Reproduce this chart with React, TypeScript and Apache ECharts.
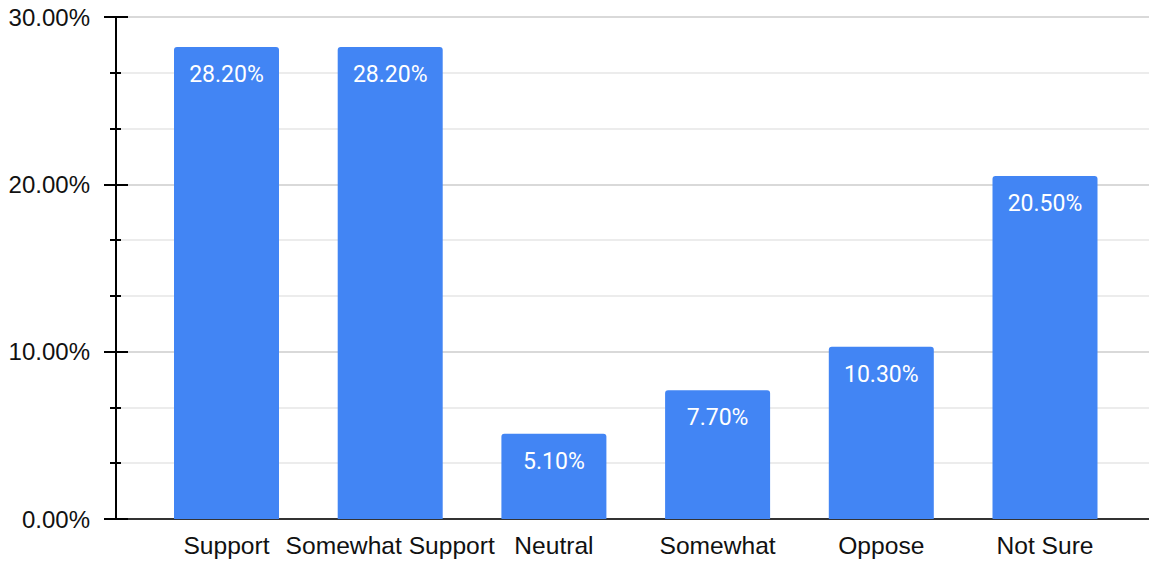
import React, { useEffect, useRef } from "react";
import * as echarts from "echarts";

const categories = ["Support", "Somewhat Support", "Neutral", "Somewhat", "Oppose", "Not Sure"];
const values = [28.2, 28.2, 5.1, 7.7, 10.3, 20.5];
const yTicks = { min: 0, max: 30, interval: 10 };

export default function App() {
  const ref = useRef<HTMLDivElement>(null);
  useEffect(() => {
    if (!ref.current) return;
    const chart = echarts.init(ref.current, null, { renderer: "svg" });
    const fmt = (v: number) => `${v.toFixed(2)}%`;
    const baseY = {
      type: "value" as const,
      min: yTicks.min,
      max: yTicks.max,
      interval: yTicks.interval,
    };
    const hiddenX = {
      type: "value" as const,
      min: 0,
      max: 1,
      axisTick: { show: false },
      axisLabel: { show: false },
      splitLine: { show: false },
    };
    chart.setOption({
      animation: false,
      grid: [
        { left: 116, right: 0, top: 17, bottom: 42 },
        { left: 144.65, right: 22.15, top: 17, bottom: 42 },
        { left: 116, right: 0, top: 17, bottom: 42 },
      ],
      xAxis: [
        {
          ...hiddenX,
          gridIndex: 0,
          axisLine: { show: true, lineStyle: { color: "#333", width: 2 } },
        },
        {
          gridIndex: 1,
          type: "category",
          data: categories,
          axisLine: { show: false },
          axisTick: { show: false },
          axisLabel: {
            color: "#111",
            fontFamily: "Liberation Sans, Arial, sans-serif",
            fontSize: 24.6,
            margin: 14,
            interval: 0,
          },
        },
        {
          ...hiddenX,
          gridIndex: 2,
          axisLine: { show: false },
        },
      ],
      yAxis: [
        {
          ...baseY,
          gridIndex: 0,
          axisLine: { show: true, lineStyle: { color: "#000", width: 2 } },
          axisTick: { show: true, inside: false, length: 12, lineStyle: { color: "#000", width: 2 } },
          minorTick: { show: true, splitNumber: 3, length: 6, lineStyle: { color: "#000", width: 2 } },
          axisLabel: {
            formatter: fmt,
            color: "#111",
            fontFamily: "Liberation Sans, Arial, sans-serif",
            fontSize: 24,
            margin: 26,
          },
          splitLine: { show: true, lineStyle: { color: "#cccccc", width: 1.5 } },
          minorSplitLine: { show: true, lineStyle: { color: "#e6e6e6", width: 1.5 } },
        },
        {
          ...baseY,
          gridIndex: 1,
          show: false,
        },
        {
          ...baseY,
          gridIndex: 2,
          axisLine: { show: true, lineStyle: { color: "#000", width: 2 } },
          axisTick: { show: true, inside: true, length: 12, lineStyle: { color: "#000", width: 2 } },
          minorTick: { show: true, splitNumber: 3, length: 5, lineStyle: { color: "#000", width: 2 } },
          axisLabel: { show: false },
          splitLine: { show: false },
        },
      ],
      series: [
        {
          type: "bar",
          xAxisIndex: 1,
          yAxisIndex: 1,
          data: values,
          barWidth: 105,
          itemStyle: { color: "#4285F4", borderRadius: [3, 3, 0, 0] },
          label: {
            show: true,
            position: "insideTop",
            distance: 16,
            color: "#ffffff",
            fontFamily: "Roboto, sans-serif",
            fontSize: 23,
            formatter: (p: any) => fmt(p.value),
          },
        },
      ],
    });
    return () => chart.dispose();
  }, []);
  return (
    <div
      ref={ref}
      style={{ position: "fixed", left: 0, top: 0, width: 1149, height: 561, background: "#fff" }}
    />
  );
}
